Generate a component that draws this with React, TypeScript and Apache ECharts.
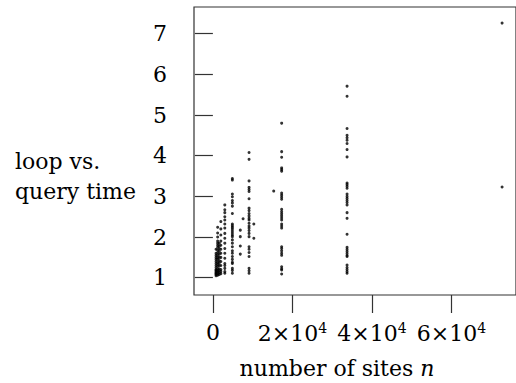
import React, { useEffect, useRef } from "react";
import * as echarts from "echarts";

// number of sites n for each measured column
const siteCounts = [800, 1200, 1600, 2000, 3000, 4900, 6900, 7600, 9100, 10300, 15300, 17300, 33750, 72750];

// loop vs. query time ratios, one array per column (same order as siteCounts)
const t800 = [1.05, 1.08, 1.1, 1.12, 1.15, 1.18, 1.2, 1.25, 1.3, 1.35, 1.4, 1.45, 1.5, 1.55, 1.6, 1.7];
const t1200 = [1.06, 1.1, 1.14, 1.18, 1.22, 1.28, 1.33, 1.38, 1.45, 1.5, 1.56, 1.62, 1.68, 1.75, 1.8, 1.85, 1.9, 2.0, 2.1, 2.24];
const t1600 = [1.08, 1.12, 1.17, 1.22, 1.3, 1.36, 1.42, 1.5, 1.58, 1.65, 1.72, 1.78, 1.85];
const t2000 = [1.1, 1.15, 1.2, 1.3, 1.4, 1.5, 1.6, 1.7, 1.8, 1.9, 2.05, 2.2, 2.38];
const t3000 = [1.11, 1.15, 1.23, 1.3, 1.35, 1.48, 1.6, 1.72, 1.85, 1.97, 2.09, 2.22, 2.32, 2.42, 2.5, 2.6, 2.67, 2.79];
const t4900 = [1.11, 1.18, 1.23, 1.35, 1.38, 1.45, 1.52, 1.6, 1.66, 1.76, 1.85, 1.93, 2.01, 2.05, 2.1, 2.15, 2.2, 2.24, 2.28, 2.32, 2.58, 2.76, 2.84, 2.9, 2.99, 3.06, 3.4, 3.44];
const t6900 = [1.58, 1.78, 2.01, 2.17];
const t7600 = [2.45];
const t9100 = [1.11, 1.17, 1.23, 1.52, 1.62, 1.7, 1.76, 2.01, 2.09, 2.16, 2.22, 2.27, 2.34, 2.42, 2.46, 2.52, 2.58, 2.65, 2.71, 2.94, 3.12, 3.17, 3.22, 3.38, 3.91, 4.08];
const t10300 = [1.97, 2.32];
const t15300 = [3.13];
const t17300 = [1.09, 1.19, 1.22, 1.27, 1.55, 1.6, 1.66, 1.72, 1.76, 2.22, 2.27, 2.32, 2.42, 2.47, 2.52, 2.57, 2.62, 2.68, 2.93, 2.98, 3.03, 3.08, 3.62, 3.66, 3.7, 3.96, 4.1, 4.8];
const t33750 = [1.11, 1.15, 1.2, 1.25, 1.31, 1.52, 1.55, 1.6, 1.65, 1.7, 1.75, 2.07, 2.46, 2.6, 2.79, 2.85, 2.9, 2.95, 3.0, 3.06, 3.2, 3.25, 3.29, 3.33, 3.97, 4.15, 4.3, 4.38, 4.44, 4.5, 4.67, 5.46, 5.71];
const t72750 = [3.23, 7.26];

const columns = [t800, t1200, t1600, t2000, t3000, t4900, t6900, t7600, t9100, t10300, t15300, t17300, t33750, t72750];

const xTicks = [0, 20000, 40000, 60000];
const xTickLabels = ["0", "2×10{sup|4}", "4×10{sup|4}", "6×10{sup|4}"];
const yTicks = [1, 2, 3, 4, 5, 6, 7];

const FONT = '"DejaVu Serif", "Liberation Serif", serif';

export default function App() {
  const ref = useRef<HTMLDivElement>(null);
  useEffect(() => {
    if (!ref.current) return;
    const chart = echarts.init(ref.current, null, { renderer: "svg" });
    const data: number[][] = [];
    columns.forEach((col, i) => {
      col.forEach((v) => data.push([siteCounts[i], v]));
    });
    const lineColor = "#333";
    chart.setOption({
      animation: false,
      grid: {
        left: 194,
        top: 7,
        right: -2,
        bottom: 88,
        show: true,
        borderColor: lineColor,
        borderWidth: 1.2,
        backgroundColor: "transparent",
      },
      xAxis: {
        type: "value",
        min: -4750,
        max: 76250,
        splitLine: { show: false },
        axisLine: { show: false },
        axisTick: {
          show: true,
          inside: false,
          length: 18,
          customValues: xTicks,
          lineStyle: { color: lineColor, width: 1.2 },
        },
        axisLabel: {
          show: true,
          customValues: xTicks,
          margin: 26,
          fontFamily: FONT,
          fontSize: 22,
          color: "#000",
          formatter: (v: number) => xTickLabels[xTicks.indexOf(v)] ?? "",
          rich: {
            sup: { fontFamily: FONT, fontSize: 14, color: "#000", verticalAlign: "top", padding: [0, 0, 10, 0] },
          },
        },
      },
      yAxis: {
        type: "value",
        min: 0.575,
        max: 7.656,
        splitLine: { show: false },
        axisLine: { show: false },
        axisTick: {
          show: true,
          inside: false,
          length: 18,
          customValues: yTicks,
          lineStyle: { color: lineColor, width: 1.2 },
        },
        axisLabel: {
          show: true,
          customValues: yTicks,
          margin: 27,
          fontFamily: FONT,
          fontSize: 22,
          color: "#000",
        },
      },
      graphic: [
        {
          type: "text",
          left: 15,
          top: 146,
          style: {
            text: "loop vs.\nquery time",
            font: `22px ${FONT}`,
            fill: "#000",
            lineHeight: 30,
          },
        },
        {
          type: "text",
          x: 337,
          y: 368,
          style: {
            text: "number of sites {i|n}",
            font: `22px ${FONT}`,
            fill: "#000",
            align: "center",
            verticalAlign: "middle",
            rich: { i: { fontFamily: FONT, fontSize: 22, fontStyle: "italic", fill: "#000" } },
          },
        },
      ],
      series: [
        {
          type: "scatter",
          data,
          symbol: "circle",
          symbolSize: 3,
          itemStyle: { color: "#000" },
          silent: true,
        },
      ],
    });
    return () => chart.dispose();
  }, []);
  return (
    <div
      ref={ref}
      style={{ position: "fixed", left: 0, top: 0, width: 516, height: 383, background: "#fff" }}
    />
  );
}
